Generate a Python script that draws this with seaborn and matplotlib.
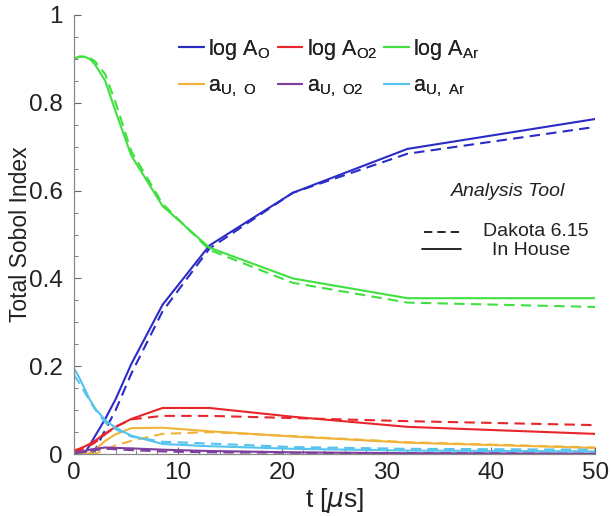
import numpy as np
import pandas as pd
import matplotlib
matplotlib.use("Agg")
import matplotlib.pyplot as plt
from matplotlib.lines import Line2D
from matplotlib.ticker import MultipleLocator
import seaborn as sns

# Time knots [us]
t = [0, 0.5, 1, 1.5, 2, 3, 4, 5.5, 8.5, 13, 21, 32, 50]

# Total Sobol indices, in-house code
inhouse = {
    "logA_O":  [0.0, 0.0, 0.0, 0.02, 0.04, 0.08, 0.125, 0.205, 0.34, 0.475, 0.595, 0.695, 0.763],
    "logA_O2": [0.008, 0.012, 0.017, 0.023, 0.03, 0.047, 0.062, 0.08, 0.105, 0.105, 0.085, 0.062, 0.046],
    "logA_Ar": [0.900, 0.905, 0.905, 0.900, 0.888, 0.850, 0.780, 0.680, 0.565, 0.470, 0.400, 0.355, 0.355],
    "aU_O":    [0.0, 0.0, 0.0, 0.002, 0.01, 0.03, 0.045, 0.059, 0.060, 0.052, 0.040, 0.026, 0.014],
    "aU_O2":   [0.003, 0.005, 0.007, 0.01, 0.012, 0.015, 0.014, 0.013, 0.010, 0.007, 0.004, 0.002, 0.001],
    "aU_Ar":   [0.195, 0.175, 0.150, 0.125, 0.105, 0.077, 0.060, 0.042, 0.023, 0.018, 0.012, 0.008, 0.006],
}

# Total Sobol indices, Dakota 6.15
dakota = {
    "logA_O":  [0.0, 0.0, 0.0, 0.0, 0.008, 0.055, 0.10, 0.183, 0.325, 0.468, 0.595, 0.684, 0.745],
    "logA_O2": [0.004, 0.008, 0.013, 0.019, 0.026, 0.045, 0.062, 0.079, 0.087, 0.087, 0.082, 0.075, 0.066],
    "logA_Ar": [0.900, 0.905, 0.905, 0.902, 0.895, 0.865, 0.800, 0.690, 0.570, 0.465, 0.390, 0.345, 0.335],
    "aU_O":    [0.0, 0.0, 0.0, 0.0, 0.0, 0.01, 0.02, 0.030, 0.046, 0.050, 0.041, 0.027, 0.015],
    "aU_O2":   [0.001, 0.003, 0.005, 0.007, 0.009, 0.012, 0.011, 0.009, 0.006, 0.004, 0.003, 0.002, 0.001],
    "aU_Ar":   [0.180, 0.163, 0.142, 0.122, 0.103, 0.072, 0.057, 0.040, 0.028, 0.024, 0.016, 0.012, 0.010],
}

params = ["logA_O", "logA_O2", "logA_Ar", "aU_O", "aU_O2", "aU_Ar"]
labels = [r"log A$_\mathregular{O}$", r"log A$_\mathregular{O2}$", r"log A$_\mathregular{Ar}$",
          r"a$_\mathregular{U,\ O}$", r"a$_\mathregular{U,\ O2}$", r"a$_\mathregular{U,\ Ar}$"]
colors = ["#2b2bc8", "#e8262a", "#3fe03f", "#f0b339", "#7d3e9e", "#55c3ee"]
tools = ["In House", "Dakota 6.15"]

rows = []
for tool, src in zip(tools, [inhouse, dakota]):
    for p in params:
        for ti, v in zip(t, src[p]):
            rows.append({"t": ti, "S": v, "param": p, "tool": tool})
df = pd.DataFrame(rows)

sns.set_style("ticks")
plt.rcParams["font.family"] = ["Liberation Sans", "DejaVu Sans"]
plt.rcParams["mathtext.default"] = "regular"

fig = plt.figure(figsize=(6.11, 5.16), dpi=100)
ax = fig.add_axes([0.121, 0.12, 0.853, 0.851])

sns.lineplot(data=df, x="t", y="S", hue="param", style="tool",
             hue_order=params, palette=dict(zip(params, colors)),
             style_order=tools, dashes={"In House": "", "Dakota 6.15": (5, 3)},
             linewidth=1.5, legend=False, ax=ax, estimator=None, sort=True)

ax.set_xlim(0, 50)
ax.set_ylim(0, 1)
ax.set_xticks([0, 10, 20, 30, 40, 50])
ax.set_yticks([0, 0.2, 0.4, 0.6, 0.8, 1.0])
ax.set_yticklabels(["0", "0.2", "0.4", "0.6", "0.8", "1"])
ax.xaxis.set_minor_locator(MultipleLocator(2))
ax.yaxis.set_minor_locator(MultipleLocator(0.05))
ax.tick_params(which="both", direction="in", colors="#666666", labelcolor="#222222")
ax.tick_params(which="major", length=5, labelsize=17.5)
ax.tick_params(axis="y", which="major", pad=8)
ax.tick_params(axis="x", which="major", pad=6)
ax.tick_params(which="minor", length=3)
for s in ["top", "right"]:
    ax.spines[s].set_visible(False)
for s in ["left", "bottom"]:
    ax.spines[s].set_color("#888888")
    ax.spines[s].set_linewidth(0.9)

ax.set_xlabel(r"t [$\mathit{\mu}$s]", fontsize=19, color="#222222", labelpad=1)
ax.set_ylabel("Total Sobol Index", fontsize=16.5, color="#222222")
ax.yaxis.set_label_coords(-0.08, 0.5)

# Parameter legend (colour), filled row by row
order = [0, 3, 1, 4, 2, 5]
handles = [Line2D([], [], color=colors[i], lw=1.5) for i in order]
leg1 = ax.legend(handles, [labels[i] for i in order], ncol=3, loc="upper center",
                 bbox_to_anchor=(0.49, 0.995), frameon=False, fontsize=15.5,
                 handlelength=1.15, handletextpad=0.2, columnspacing=0.33,
                 labelspacing=0.64)
ax.add_artist(leg1)
for txt in leg1.get_texts():
    txt.set_color("#222222")

# Tool legend (line style)
ax.text(0.833, 0.597, "Analysis Tool", transform=ax.transAxes, ha="center",
        va="center", fontsize=14, fontstyle="italic", color="#222222")
ax.add_line(Line2D([0.672, 0.740], [0.505, 0.505], transform=ax.transAxes,
                   color="black", lw=1.2, ls=(0, (5, 3))))
ax.add_line(Line2D([0.667, 0.743], [0.466, 0.466], transform=ax.transAxes,
                   color="black", lw=1.2))
ax.text(0.886, 0.506, "Dakota 6.15", transform=ax.transAxes, ha="center",
        va="center", fontsize=14, color="#222222")
ax.text(0.878, 0.464, "In House", transform=ax.transAxes, ha="center",
        va="center", fontsize=14, color="#222222")

fig.savefig("out.png", dpi=100)
